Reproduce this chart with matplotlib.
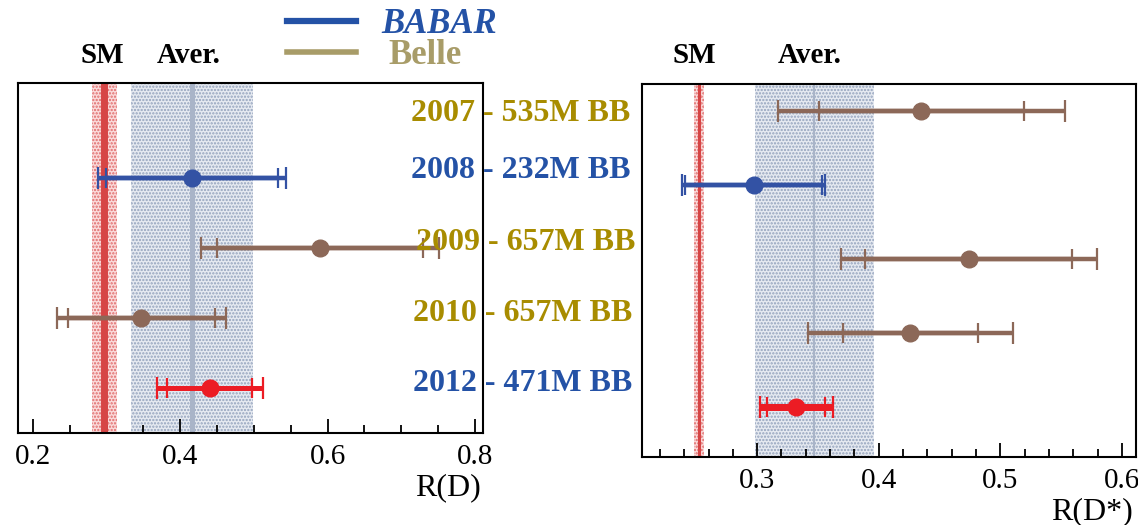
import numpy as np
import matplotlib
matplotlib.use("Agg")
import matplotlib.pyplot as plt
from matplotlib.ticker import MultipleLocator

plt.rcParams['font.family'] = ['Liberation Serif', 'DejaVu Serif']
plt.rcParams['hatch.linewidth'] = 1.1

# Measurements, ordered top to bottom
years = ["2007", "2008", "2009", "2010", "2012"]
samples = ["535M BB", "232M BB", "657M BB", "657M BB", "471M BB"]
experiments = ["Belle", "BaBar", "Belle", "Belle", "BaBar"]

# R(D): central value, statistical and systematic errors (no 2007 entry)
rd_val = [np.nan, 0.416, 0.59, 0.347, 0.440]
rd_stat = [np.nan, 0.117, 0.14, 0.100, 0.058]
rd_syst = [np.nan, 0.052, 0.08, 0.057, 0.042]

# R(D*)
rds_val = [0.435, 0.297, 0.474, 0.426, 0.332]
rds_stat = [0.084, 0.056, 0.085, 0.0555, 0.024]
rds_syst = [0.083, 0.018, 0.062, 0.063, 0.018]

# Standard Model predictions and world averages (value, half-width)
rd_sm, rd_sm_err = 0.297, 0.017
rds_sm, rds_sm_err = 0.252, 0.004
rd_avg, rd_avg_err = 0.416, 0.083
rds_avg, rds_avg_err = 0.347, 0.049

BROWN = "#8c6858"
BLUE_PT = "#3352a4"
RED_PT = "#ec1c24"
GOLD = "#a88c00"
BLUE_TXT = "#2452a6"
KHAKI = "#a89c68"
SM_RED = "#d64545"
AVG_LINE = "#a9b4c8"
AVG_HATCH = "#93a2bc"

point_colors = [BROWN, BLUE_PT, BROWN, BROWN, RED_PT]

W, H = 1138, 525
fig = plt.figure(figsize=(W / 100, H / 100), dpi=100)


def px_axes(x0, y0, x1, y1):
    return fig.add_axes([x0 / W, 1 - y1 / H, (x1 - x0) / W, (y1 - y0) / H])


def draw_panel(ax, vals, stats, systs, sm, sm_err, avg, avg_err, xlim, ylim,
               major, minor, sm_lw, avg_lw, lw_scale, pad):
    ax.set_xlim(*xlim)
    ax.set_ylim(*ylim)
    # average band
    ax.axvspan(avg - avg_err, avg + avg_err, facecolor="#e6eaf1",
               edgecolor=AVG_HATCH, hatch=".....", linewidth=0, zorder=1)
    ax.axvline(avg, color=AVG_LINE, lw=avg_lw, zorder=2)
    # SM band
    ax.axvspan(sm - sm_err, sm + sm_err, facecolor="#fadada",
               edgecolor="#e06a6a", hatch=".....", linewidth=0, zorder=1)
    ax.axvline(sm, color=SM_RED, lw=sm_lw, zorder=2)

    rows = np.arange(len(vals))
    for i in rows:
        v = vals[i]
        if np.isnan(v):
            continue
        c = point_colors[i]
        tot = np.hypot(stats[i], systs[i])
        lw = 3.6 * lw_scale if c == RED_PT else 3.2
        ax.errorbar(v, i, xerr=tot, fmt="none", ecolor=c, elinewidth=lw,
                    capsize=8, capthick=1.6, zorder=3)
        ax.errorbar(v, i, xerr=stats[i], fmt="none", ecolor=c, elinewidth=lw,
                    capsize=7, capthick=1.6, zorder=3)
        ax.plot(v, i, "o", color=c, ms=12, zorder=4)

    ax.xaxis.set_major_locator(MultipleLocator(major))
    ax.xaxis.set_minor_locator(MultipleLocator(minor))
    ax.xaxis.set_major_formatter(plt.FuncFormatter(lambda x, p: f"{x:.1f}"))
    ax.tick_params(axis="x", which="both", direction="in", top=False,
                   labelsize=21, pad=pad)
    ax.tick_params(axis="x", which="major", length=10, width=1.3)
    ax.tick_params(axis="x", which="minor", length=6, width=1.3)
    ax.set_yticks([])
    for s in ax.spines.values():
        s.set_linewidth(1.5)


axL = px_axes(18, 83, 483, 433)
draw_panel(axL, rd_val, rd_stat, rd_syst, rd_sm, rd_sm_err, rd_avg, rd_avg_err,
           (0.1796, 0.811), (4 + 45 / 70, -25 / 70), 0.2, 0.05,
           sm_lw=5, avg_lw=3.6, lw_scale=1.0, pad=8)

axR = px_axes(642, 84, 1136, 457)
draw_panel(axR, rds_val, rds_stat, rds_syst, rds_sm, rds_sm_err, rds_avg,
           rds_avg_err, (0.2053, 0.6115), (4 + 50 / 74, -27 / 74), 0.1, 0.02,
           sm_lw=2.2, avg_lw=1.5, lw_scale=1.4, pad=8)


def ftext(x, y, s, **kw):
    fig.text(x / W, 1 - y / H, s, **kw)


# axis titles
ftext(481, 495, "R(D)", ha="right", va="baseline", fontsize=23)
ftext(1133, 519, "R(D*)", ha="right", va="baseline", fontsize=23)

# band labels
for x, s in [(80, "SM"), (157, "Aver."), (673, "SM"), (778, "Aver.")]:
    ftext(x, 63, s, ha="left", va="baseline", fontsize=21, fontweight="bold")

# legend
fig.add_artist(plt.Line2D([287 / W, 356 / W], [1 - 21 / H, 1 - 21 / H],
                          color=BLUE_TXT, lw=4.5))
fig.add_artist(plt.Line2D([287 / W, 356 / W], [1 - 52 / H, 1 - 52 / H],
                          color=KHAKI, lw=4.0))
ftext(381, 33, "BABAR", ha="left", va="baseline", fontsize=25,
      fontweight="bold", fontstyle="italic", color=BLUE_TXT)
ftext(388, 64, "Belle", ha="left", va="baseline", fontsize=25,
      fontweight="bold", color=KHAKI)

# dataset labels between the panels
label_x = [411, 411, 416, 413, 413]
label_base = [121, 178, 250, 321, 391]
for yr, smp, exp, lx, ly in zip(years, samples, experiments, label_x, label_base):
    col = GOLD if exp == "Belle" else BLUE_TXT
    ftext(lx, ly, f"{yr} - {smp}", ha="left", va="baseline", fontsize=23,
          fontweight="bold", color=col, zorder=10)

fig.savefig("out.png", dpi=100)
